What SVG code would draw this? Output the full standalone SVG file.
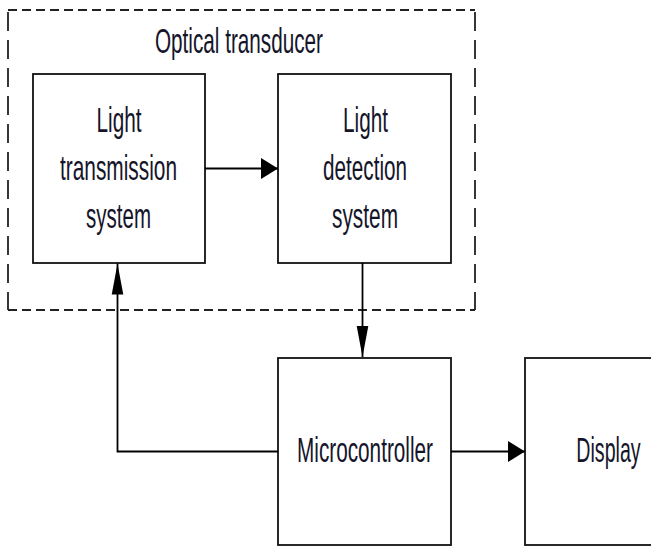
<svg xmlns="http://www.w3.org/2000/svg" width="651" height="547" viewBox="0 0 651 547">
<style>
.box{fill:#fff;stroke:#111;stroke-width:1.8}
.dh{stroke:#222;stroke-width:2.2;stroke-dasharray:9 5;fill:none}
.dv{stroke:#222;stroke-width:1.8;stroke-dasharray:19 9;fill:none}
.t{font-family:"Liberation Sans",Arial,sans-serif;font-size:35px;fill:#15152a;text-anchor:middle}
.c{stroke:#000;stroke-width:1.8;fill:none}
</style>
<defs>
<marker id="ah" markerUnits="userSpaceOnUse" markerWidth="17" markerHeight="21" refX="17" refY="10.5" orient="auto" overflow="visible"><path d="M0,0 L17,10.5 L0,21 z" fill="#000"/></marker>
<marker id="av" markerUnits="userSpaceOnUse" markerWidth="31" markerHeight="12" refX="31" refY="5.8" orient="auto" overflow="visible"><path d="M0,0 L31,5.8 L0,11.6 z" fill="#000"/></marker>
</defs>
<g id="optical-transducer">
<line class="dh" x1="8" y1="10" x2="475" y2="10"/>
<line class="dh" x1="8" y1="310" x2="475" y2="310"/>
<line class="dv" x1="8" y1="12" x2="8" y2="310"/>
<line class="dv" x1="475" y1="12" x2="475" y2="310"/>
<text class="t" x="239" y="53" textLength="168" lengthAdjust="spacingAndGlyphs">Optical transducer</text>
</g>
<g id="light-transmission">
<rect class="box" x="33" y="74" width="172" height="189"/>
<text class="t" x="119" y="132" textLength="45" lengthAdjust="spacingAndGlyphs">Light</text>
<text class="t" x="118.5" y="180" textLength="117" lengthAdjust="spacingAndGlyphs">transmission</text>
<text class="t" x="118.5" y="228" textLength="65" lengthAdjust="spacingAndGlyphs">system</text>
</g>
<g id="light-detection">
<rect class="box" x="278" y="74" width="173" height="189"/>
<text class="t" x="365.5" y="132" textLength="45" lengthAdjust="spacingAndGlyphs">Light</text>
<text class="t" x="365" y="180" textLength="84" lengthAdjust="spacingAndGlyphs">detection</text>
<text class="t" x="365" y="228" textLength="66" lengthAdjust="spacingAndGlyphs">system</text>
</g>
<g id="microcontroller">
<rect class="box" x="278" y="358" width="173" height="187"/>
<text class="t" x="365" y="462" textLength="136" lengthAdjust="spacingAndGlyphs">Microcontroller</text>
</g>
<g id="display">
<rect class="box" x="525" y="358" width="150" height="187"/>
<text class="t" x="0" y="0" transform="translate(608.5,462) scale(0.56,1)">Display</text>
</g>
<g id="connectors">
<line class="c" x1="205" y1="168.5" x2="278" y2="168.5" marker-end="url(#ah)"/>
<line class="c" x1="362.5" y1="263" x2="362.5" y2="357" stroke-width="1.4" marker-end="url(#av)"/>
<line class="c" x1="451" y1="451.5" x2="525" y2="451.5" marker-end="url(#ah)"/>
<polyline class="c" points="278,451.5 117.5,451.5 117.5,263.5" marker-end="url(#av)"/>
</g>
</svg>
